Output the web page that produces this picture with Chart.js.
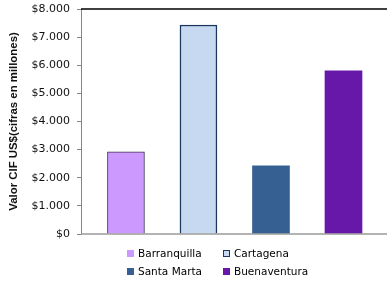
<!DOCTYPE html>
<html>
<head>
<meta charset="utf-8">
<script src="https://cdn.jsdelivr.net/npm/chart.js@4.4.0/dist/chart.umd.min.js"></script>
<style>
  html, body { margin: 0; padding: 0; background: #fff; }
  #wrap { position: relative; width: 387px; height: 282px; }
  #legend {
    position: absolute; left: 127px; top: 246px;
    display: grid; grid-template-columns: 96px 100px; row-gap: 4px;
    font: 10.5px "DejaVu Sans", sans-serif; color: #000;
  }
  #legend div { display: flex; align-items: center; height: 14px; white-space: nowrap; }
  #legend span.box { display: inline-block; width: 7px; height: 7px; margin-right: 4px; box-sizing: border-box; }
</style>
</head>
<body>
<div id="wrap">
  <canvas id="chart" width="387" height="282"></canvas>
  <div id="legend"></div>
</div>
<script>
const ports = ['Barranquilla', 'Cartagena', 'Santa Marta', 'Buenaventura'];
const valores = [2920, 7430, 2420, 5800];
const fills = ['#CC99FF', '#C6D9F1', '#376092', '#6818A8'];
const borders = ['#3F3151', '#17375E', '#376092', '#6818A8'];
const borderWidths = [1, 1.5, 0, 0];

function fmt(v) {
  return '$' + v.toString().replace(/\B(?=(\d{3})+(?!\d))/g, '.');
}

// top line of the plot and the x axis run to the right edge of the picture
const frameLines = {
  id: 'frameLines',
  afterDraw(chart) {
    const { ctx, chartArea } = chart;
    ctx.save();
    ctx.strokeStyle = '#000';
    ctx.lineWidth = 1.5;
    ctx.beginPath();
    ctx.moveTo(chartArea.left, chartArea.top);
    ctx.lineTo(chart.width, chartArea.top);
    ctx.stroke();
    ctx.strokeStyle = '#9a9a9a';
    ctx.lineWidth = 1.5;
    ctx.beginPath();
    ctx.moveTo(chartArea.left, chartArea.bottom);
    ctx.lineTo(chart.width, chartArea.bottom);
    ctx.stroke();
    ctx.restore();
  }
};

new Chart(document.getElementById('chart'), {
  type: 'bar',
  data: {
    labels: ports,
    datasets: [{
      data: valores.map((v, i) => ({ x: i, y: v })),
      backgroundColor: fills,
      borderColor: borders,
      borderWidth: borderWidths,
      borderSkipped: 'bottom',
      barThickness: 37
    }]
  },
  options: {
    responsive: false,
    animation: false,
    layout: { padding: { top: 9, right: 0, bottom: 48, left: 0 } },
    plugins: {
      legend: { display: false },
      tooltip: { enabled: false }
    },
    scales: {
      x: {
        type: 'linear',
        offset: false,
        min: -0.62,
        max: 3.6,
        ticks: { display: false },
        grid: { display: false, drawTicks: false },
        border: { display: false }
      },
      y: {
        min: 0,
        max: 8000,
        afterFit: s => { s.width = 81; s.paddingTop = 0; s.paddingBottom = 0; },
        ticks: {
          stepSize: 1000,
          padding: 7,
          color: '#111',
          font: { family: 'DejaVu Sans', size: 11 },
          callback: v => fmt(v)
        },
        grid: { drawOnChartArea: false, drawTicks: true, tickLength: 4, color: '#868686' },
        border: { display: true, color: '#868686', width: 1 },
        title: {
          display: true,
          text: 'Valor CIF US$(cifras en millones)',
          color: '#111',
          font: { family: 'Liberation Sans', size: 11.4, weight: 'bold' },
          padding: { top: 7, bottom: 0 }
        }
      }
    }
  },
  plugins: [frameLines]
});

const legend = document.getElementById('legend');
ports.forEach((name, i) => {
  const item = document.createElement('div');
  const box = document.createElement('span');
  box.className = 'box';
  box.style.background = fills[i];
  if (i === 1) box.style.border = '1px solid ' + borders[i];
  item.appendChild(box);
  item.appendChild(document.createTextNode(name));
  legend.appendChild(item);
});
</script>
</body>
</html>
